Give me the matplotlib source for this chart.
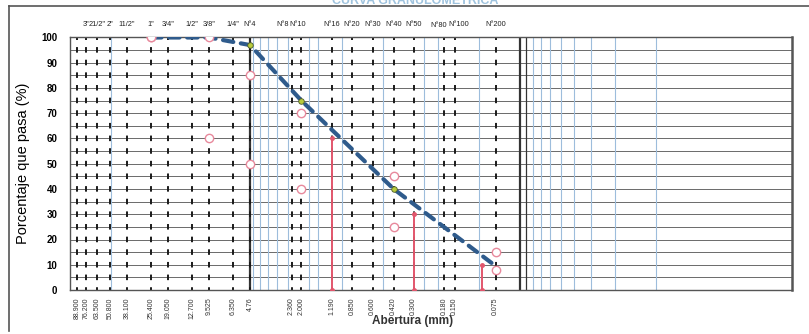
import numpy as np
import matplotlib
matplotlib.use("Agg")
from matplotlib import pyplot as plt

plt.rcParams['font.family'] = ['Liberation Sans', 'DejaVu Sans']
plt.rcParams['lines.scale_dashes'] = False

# sieve openings (mm) and their names
sieve_mm = [88.9, 76.2, 63.5, 50.8, 38.1, 25.4, 19.05, 12.7, 9.525, 6.35, 4.76,
            2.36, 2.0, 1.19, 0.85, 0.6, 0.42, 0.3, 0.18, 0.15, 0.075]
sieve_lbl = ["88.900", "76.200", "63.500", "50.800", "38.100", "25.400", "19.050",
             "12.700", "9.525", "6.350", "4.76", "2.360", "2.000", "1.190", "0.850",
             "0.600", "0.420", "0.300", "0.180", "0.150", "0.075"]
top_mm = [76.2, 63.5, 50.8, 38.1, 25.4, 19.05, 12.7, 9.525, 6.35, 4.76,
          2.36, 2.0, 1.19, 0.85, 0.6, 0.42, 0.3, 0.18, 0.15, 0.075]
top_lbl = ['3"', '21/2"', '2"', '11/2"', '1"', '3/4"', '1/2"', '3/8"', '1/4"', 'N°4',
           'N°8', 'N°10', 'N°16', 'N°20', 'N°30', 'N°40', 'N°50', 'N°80', 'N°100', 'N°200']

# thin log grid lines (blue)
fine_grid = [50, 4.5, 4, 3.5, 3, 2.5, 1.75, 1.5, 1.0, 0.5, 0.25, 0.2, 0.1,
             0.04, 0.035, 0.03, 0.025, 0.02, 0.015, 0.01, 0.005]
heavy_grid = [4.76, 0.05, 0.045]

# gradation curve of the sample
curve_mm = [25.4, 9.525, 4.76, 2.0, 0.42, 0.075]
curve_pct = [100, 100, 97, 75, 40, 9.5]
pts_mm = [4.76, 2.0, 0.42]
pts_pct = [97, 75, 40]

# specification band
spec_mm = [25.4, 9.525, 4.76, 2.0, 0.42, 0.075]
spec_max = [100, 100, 85, 70, 45, 15]
spec_min = [100, 60, 50, 40, 25, 8]

# D60, D30, D10
d_mm = [1.19, 0.30, 0.095]
d_pct = [60, 30, 10]

fig = plt.figure(figsize=(8.09, 3.34), dpi=100)
ax = fig.add_axes([70/809, 1-290/334, 722/809, 252.5/334])
ax.set_xscale('log')
ax.set_xlim(100, 0.0005)
ax.set_ylim(0, 100)

for y in range(0, 101, 5):
    ax.axhline(y, color='#6a6a6a', lw=0.7, zorder=1)
for x in fine_grid:
    ax.axvline(x, color='#9dbddc', lw=0.8, zorder=1)
for x in heavy_grid:
    ax.axvline(x, color='#333333', lw=1.6 if x != 0.045 else 0.9, zorder=2)
for x in sieve_mm:
    ax.axvline(x, color='#1a1a1a', lw=1.4, linestyle=(2, (4, 5.1)), zorder=2)

ax.plot(curve_mm, curve_pct, color='#2f5b8c', lw=3.0, linestyle=(0, (7.5, 5.5)),
        solid_capstyle='round', dash_capstyle='round', zorder=4)
ax.plot(pts_mm, pts_pct, 'o', ms=4, mfc='#b9cc3c', mec='#4a5a2a', mew=0.6, zorder=5)

ax.plot(spec_mm, spec_max, 'o', ms=6, mfc='white', mec='#e8899c', mew=1.0, zorder=5)
ax.plot(spec_mm, spec_min, 'o', ms=6, mfc='white', mec='#e8899c', mew=1.0, zorder=5)

for x, y in zip(d_mm, d_pct):
    ax.plot([x, x], [0, y], color='#e2566c', lw=1.4, zorder=3)
    ax.plot([x, x], [0, y], 'o', ms=2.5, color='#e2566c', zorder=3)

ax.set_xticks([])
ax.set_xticks([], minor=True)
ax.set_yticks(range(0, 101, 10))
ax.set_yticklabels([str(v) for v in range(0, 101, 10)], fontsize=7, fontweight='bold')
ax.tick_params(axis='y', length=0, pad=9)
for s in ax.spines.values():
    s.set_color('#555555')
    s.set_linewidth(1.0)
ax.spines['right'].set_linewidth(1.8)

# top sieve names; the crowded pairs sit side by side as on the sheet
for x, t in zip(top_mm, top_lbl):
    ha = 'center'
    if t == 'N°8':
        x, ha = 2.49, 'right'
    elif t == 'N°10':
        x, ha = 2.45, 'left'
    elif t == 'N°80':
        x, ha = 0.171, 'right'
    elif t == 'N°100':
        x, ha = 0.168, 'left'
    ax.text(x, 104.9 if t == 'N°80' else 105.3, t, fontsize=5.3, ha=ha, va='center',
            color='#222222')
for x, t in zip(sieve_mm, sieve_lbl):
    ax.text(x, -3, t, fontsize=5, ha='center', va='top', rotation=90, color='#333333')

ax.set_ylabel('Porcentaje que pasa (%)', fontsize=10.5, labelpad=8)
fig.text(413/809, 1-321/334, 'Abertura (mm)', fontsize=8.5, fontweight='bold',
         ha='center', va='center', color='#333333')

fig.text(415/809, 1-1/334, 'CURVA GRANULOMETRICA', fontsize=9, fontweight='bold',
         ha='center', va='center', color='#9fc3de')
fig.add_artist(plt.Line2D([9/809, 1], [1-6/334, 1-6/334], color='#555555', lw=1.2))
fig.add_artist(plt.Line2D([9/809, 9/809], [1-6/334, 1-331/334], color='#555555', lw=1.2))

fig.savefig('out.png', dpi=100)
